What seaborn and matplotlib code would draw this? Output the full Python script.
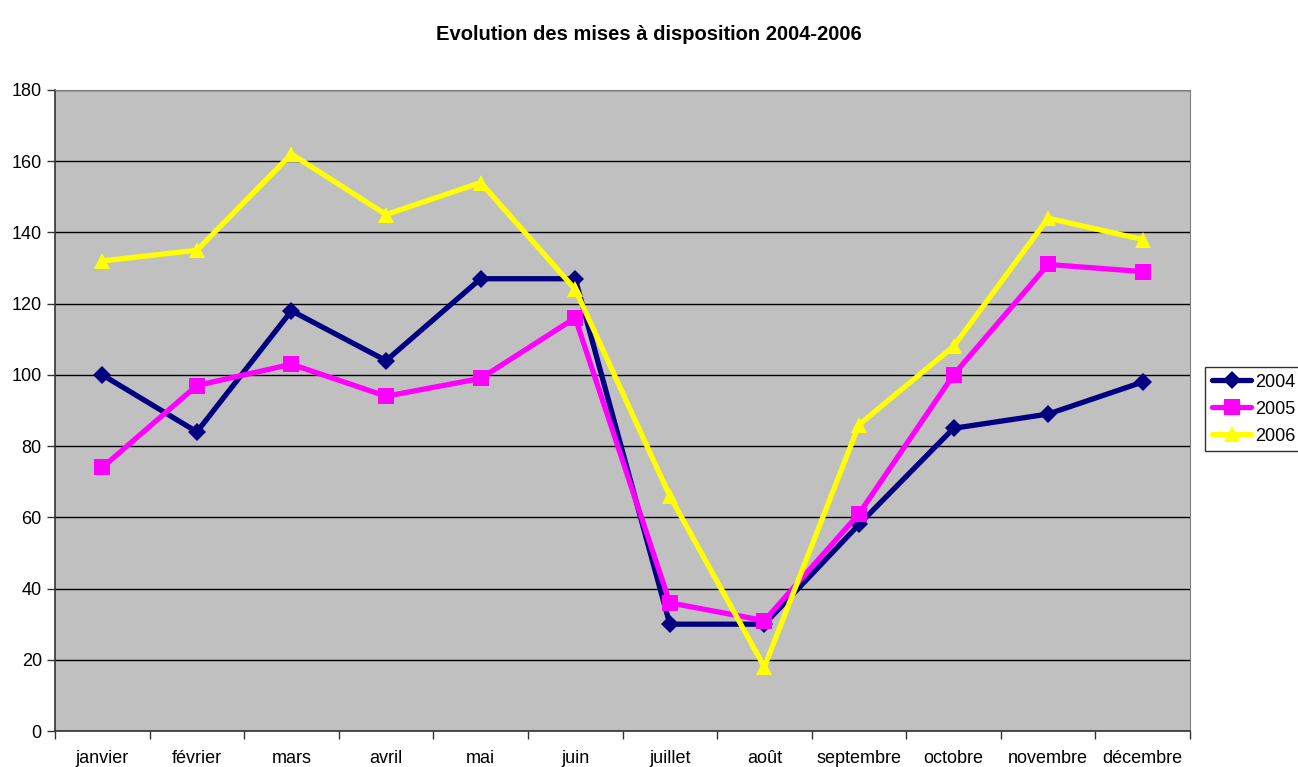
import numpy as np
import pandas as pd
import matplotlib
matplotlib.use("Agg")
import matplotlib.pyplot as plt
import seaborn as sns

months = ["janvier", "février", "mars", "avril", "mai", "juin", "juillet",
          "août", "septembre", "octobre", "novembre", "décembre"]
years = ["2004", "2005", "2006"]
v2004 = [100, 84, 118, 104, 127, 127, 30, 30, 58, 85, 89, 98]
v2005 = [74, 97, 103, 94, 99, 116, 36, 31, 61, 100, 131, 129]
v2006 = [132, 135, 162, 145, 154, 124, 66, 18, 86, 108, 144, 138]
colors = ["#000080", "#FF00FF", "#FFFF00"]

rows = []
for y, vals in zip(years, [v2004, v2005, v2006]):
    for i, v in enumerate(vals):
        rows.append({"idx": i, "mois": months[i], "annee": y, "valeur": v})
df = pd.DataFrame(rows)

sns.set_style("white")
plt.rcParams['font.family'] = ['Liberation Sans', 'DejaVu Sans']
plt.rcParams['text.color'] = 'black'
plt.rcParams['xtick.color'] = 'black'
plt.rcParams['ytick.color'] = 'black'

fig = plt.figure(figsize=(12.98, 7.67), dpi=100)
ax = fig.add_axes([0.0424, 0.0469, 0.8744, 0.8358])
ax.set_facecolor("#C0C0C0")

sns.lineplot(data=df, x="idx", y="valeur", hue="annee", style="annee",
             palette=colors, markers=["D", "s", "^"], dashes=False,
             linewidth=3.8, markersize=12, markeredgewidth=0, ax=ax)
# smaller diamonds like the original
for line in ax.lines[:1]:
    line.set_markersize(9)

ax.set_xlim(-0.5, 11.5)
ax.set_ylim(0, 180)
ax.set_yticks(range(0, 181, 20))
ax.yaxis.grid(True, color="black", linewidth=1)
ax.set_axisbelow(True)
ax.set_xticks(range(12))
ax.set_xticklabels(months)
ax.set_xticks(np.arange(-0.5, 12, 1), minor=True)
ax.tick_params(axis="x", which="major", length=0, pad=14, labelsize=13)
ax.tick_params(axis="x", which="minor", length=6, width=1, color="#333333", direction="out", bottom=True)
ax.tick_params(axis="y", length=6, width=1, color="#333333", direction="out", left=True, labelsize=13)
ax.set_xlabel("")
ax.set_ylabel("")
for side in ["top", "right"]:
    ax.spines[side].set_color("#808080")
for side in ["left", "bottom"]:
    ax.spines[side].set_color("#333333")
    ax.spines[side].set_linewidth(1.2)

fig.suptitle("Evolution des mises à disposition 2004-2006", fontsize=14.5,
             fontweight="bold", y=0.968, color="black")

leg = ax.legend(title=None, loc="center left", bbox_to_anchor=(1.0135, 0.502),
                frameon=True, fancybox=False, fontsize=13, handlelength=2.2,
                borderpad=0.35, labelspacing=0.55, handletextpad=0.2,
                borderaxespad=0)
leg.get_frame().set_edgecolor("black")
leg.get_frame().set_linewidth(1)
for line in leg.get_lines()[:1]:
    line.set_markersize(9)

fig.savefig("out.png", dpi=100)
